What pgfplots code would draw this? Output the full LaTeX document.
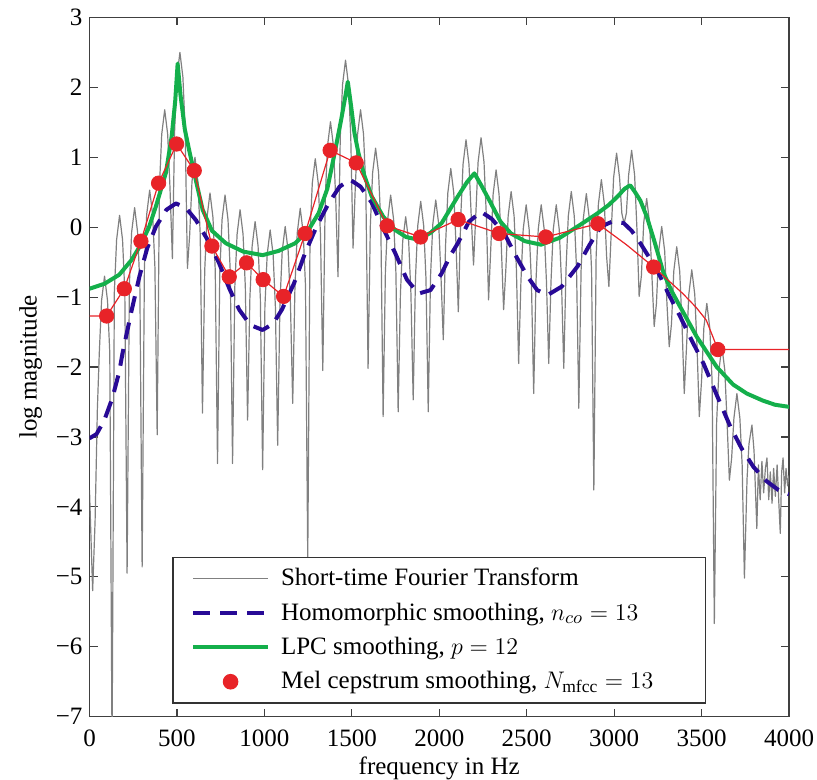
\documentclass[border=0pt]{standalone}
\usepackage{pgfplots}
\pgfplotsset{compat=1.18}
\usepackage{fontspec}
\setmainfont{Liberation Serif}
\definecolor{stftgray}{RGB}{128,128,128}
\definecolor{homblue}{RGB}{40,10,150}
\definecolor{lpcgreen}{RGB}{20,175,75}
\definecolor{melred}{RGB}{232,35,40}
\begin{document}
\begin{tikzpicture}
\begin{axis}[
  scale only axis, width=349.75pt, height=349.5pt,
  xmin=0, xmax=4000, ymin=-7, ymax=3,
  xtick={0,500,1000,1500,2000,2500,3000,3500,4000},
  xticklabels={0,500,1000,1500,2000,2500,3000,3500,4000},
  ytick={-7,-6,-5,-4,-3,-2,-1,0,1,2,3},
  yticklabels={−7,−6,−5,−4,−3,−2,−1,0,1,2,3},
  tick align=inside, tick pos=both, major tick length=4pt,
  axis line style={black!75, line width=0.6pt},
  every tick/.style={black!75, line width=0.6pt},
  tick label style={font=\fontsize{12.5}{15}\selectfont},
  xticklabel style={yshift=-3pt},
  label style={font=\fontsize{12.5}{15}\selectfont},
  xlabel={frequency in Hz}, ylabel={log magnitude},
  xlabel style={yshift=1.8pt},
  legend style={at={(0.5,0.0186)}, anchor=south, draw=black!80, line width=0.6pt, fill=white,
    font=\fontsize{12.5}{15}\selectfont, row sep=3pt, column sep=3.5pt, inner xsep=9pt, inner ysep=3.5pt},
  legend cell align=left,
  legend image code/.code={\draw[mark repeat=2,mark phase=2,#1] plot coordinates {(0pt,0pt) (18.75pt,0pt) (37.5pt,0pt)};},
]
\addplot[stftgray, line width=0.6pt, line join=round] coordinates {
(0,-3.76)(18,-5.2)(32,-4.2)(45,-2.6)(56,-1.8)(69,-1.05)(86,-0.7)(103,-1.05)(116,-1.8)(129,-7.5)
(142,-0.93)(155,-0.18)(172,0.17)(189,-0.18)(202,-0.93)(215,-4.95)
(228,-0.82)(241,-0.07)(258,0.28)(275,-0.07)(288,-0.82)(301,-4.86)
(314,-0.57)(327,0.18)(344,0.53)(361,0.18)(374,-0.57)(387,-2.97)
(400,0.58)(413,1.33)(430,1.68)(447,1.33)(460,0.58)(474,-0.45)
(487,1.40)(500,2.15)(517,2.50)(534,2.15)(547,1.40)(560,-0.59)
(573,-0.1)(586,0.65)(603,1.0)(620,0.65)(633,-0.1)(646,-2.66)
(659,-0.61)(672,0.14)(689,0.49)(706,0.14)(719,-0.61)(732,-3.38)
(745,-0.64)(758,0.11)(775,0.46)(792,0.11)(805,-0.64)(818,-3.38)
(831,-0.85)(844,-0.10)(861,0.25)(878,-0.10)(891,-0.85)(904,-2.76)
(917,-1.02)(930,-0.27)(947,0.08)(964,-0.27)(977,-1.02)(990,-3.47)
(1003,-1.14)(1016,-0.39)(1033,-0.04)(1050,-0.39)(1063,-1.14)(1076,-3.12)
(1089,-1.09)(1102,-0.34)(1119,0.01)(1136,-0.34)(1149,-1.09)(1162,-2.52)
(1175,-0.83)(1188,-0.08)(1205,0.27)(1222,-0.08)(1235,-0.83)(1248,-4.75)
(1261,-0.12)(1274,0.63)(1291,0.98)(1308,0.63)(1321,-0.12)(1334,-2.05)
(1348,0.41)(1361,1.16)(1378,1.51)(1395,1.16)(1408,0.41)(1421,-0.71)
(1434,1.29)(1447,2.04)(1464,2.39)(1481,2.04)(1494,1.29)(1507,-0.30)
(1520,0.58)(1533,1.33)(1550,1.68)(1567,1.33)(1580,0.58)(1593,-2.02)
(1606,0.03)(1619,0.78)(1636,1.13)(1653,0.78)(1666,0.03)(1679,-2.71)
(1692,-0.64)(1705,0.11)(1722,0.46)(1739,0.11)(1752,-0.64)(1765,-2.64)
(1778,-0.95)(1791,-0.20)(1808,0.15)(1825,-0.20)(1838,-0.95)(1851,-2.47)
(1864,-0.73)(1877,0.02)(1894,0.37)(1911,0.02)(1924,-0.73)(1937,-2.64)
(1950,-0.71)(1963,0.04)(1980,0.39)(1997,0.04)(2010,-0.71)(2023,-1.61)
(2036,-0.26)(2049,0.49)(2066,0.84)(2083,0.49)(2096,-0.26)(2109,-1.21)
(2123,0.15)(2136,0.90)(2153,1.25)(2170,0.90)(2183,0.15)(2196,-0.54)
(2209,0.18)(2222,0.93)(2239,1.28)(2256,0.93)(2269,0.18)(2282,-1.04)
(2295,-0.28)(2308,0.47)(2325,0.82)(2342,0.47)(2355,-0.28)(2368,-1.18)
(2381,-0.59)(2394,0.16)(2411,0.51)(2428,0.16)(2441,-0.59)(2454,-1.95)
(2467,-0.78)(2480,-0.03)(2497,0.32)(2514,-0.03)(2527,-0.78)(2540,-2.38)
(2553,-0.78)(2566,-0.03)(2583,0.32)(2600,-0.03)(2613,-0.78)(2626,-1.95)
(2639,-0.78)(2652,-0.03)(2669,0.32)(2686,-0.03)(2699,-0.78)(2712,-2.02)
(2725,-0.59)(2738,0.16)(2755,0.51)(2772,0.16)(2785,-0.59)(2798,-2.59)
(2811,-0.62)(2824,0.13)(2841,0.48)(2858,0.13)(2871,-0.62)(2884,-3.76)
(2897,-0.42)(2910,0.33)(2927,0.68)(2944,0.33)(2957,-0.42)(2970,-0.85)
(2984,-0.04)(2997,0.71)(3014,1.06)(3031,0.71)(3044,0.20)(3057,0.05)
(3070,0.20)(3083,0.75)(3100,1.10)(3117,0.75)(3130,0.00)(3143,-0.99)
(3156,-0.69)(3169,0.06)(3186,0.41)(3203,0.06)(3216,-0.69)(3229,-1.42)
(3242,-1.09)(3255,-0.34)(3272,0.01)(3289,-0.34)(3302,-1.09)(3315,-1.71)
(3328,-1.38)(3341,-0.63)(3358,-0.28)(3375,-0.63)(3388,-1.38)(3401,-2.38)
(3414,-1.71)(3427,-0.96)(3444,-0.61)(3461,-0.96)(3474,-1.71)(3487,-2.71)
(3500,-2.19)(3513,-1.44)(3530,-1.09)(3547,-1.44)(3560,-2.19)(3573,-5.67)
(3586,-2.8)(3599,-2.05)(3616,-1.70)(3633,-2.05)(3646,-2.8)(3659,-3.62)
(3672,-3.3)(3685,-2.73)(3702,-2.38)(3719,-2.73)(3732,-3.4)(3745,-5.02)
(3760,-3.6)(3771,-3.1)(3788,-2.83)(3800,-3.2)(3816,-4.31)
(3825,-3.4)(3835,-3.9)(3845,-3.35)(3855,-3.8)(3865,-3.45)(3874,-3.3)(3884,-3.9)(3893,-3.5)(3903,-3.95)(3912,-3.45)(3922,-3.85)(3932,-3.4)(3941,-3.9)(3950,-4.38)(3958,-3.5)(3966,-3.3)(3975,-3.8)(3983,-3.45)(3992,-3.7)(4000,-3.55)
};
\addlegendentry{Short-time Fourier Transform}
\addplot[homblue, line width=2pt, dash pattern=on 8.5pt off 5pt, line join=round] coordinates {
(0,-3.02)(40,-2.96)(85,-2.76)(130,-2.45)(170,-2.07)(189,-1.80)(240,-1.2)(285,-0.71)(330,-0.3)(380,0.01)(440,0.25)(494,0.34)(550,0.28)(609,0.10)(680,-0.2)(742,-0.52)(800,-0.88)(856,-1.18)(920,-1.40)(990,-1.47)(1050,-1.38)(1100,-1.18)(1170,-0.8)(1233,-0.37)(1300,0.02)(1367,0.34)(1430,0.58)(1490,0.68)(1550,0.58)(1614,0.35)(1680,-0.02)(1748,-0.37)(1815,-0.75)(1881,-0.95)(1950,-0.9)(2014,-0.66)(2060,-0.42)(2106,-0.23)(2170,0.08)(2239,0.22)(2300,0.12)(2372,-0.09)(2440,-0.42)(2506,-0.71)(2560,-0.9)(2620,-0.97)(2700,-0.85)(2791,-0.56)(2860,-0.25)(2925,0.01)(2990,0.08)(3054,0.06)(3100,-0.05)(3150,-0.23)(3245,-0.61)(3310,-0.95)(3378,-1.28)(3440,-1.6)(3511,-1.95)(3590,-2.42)(3664,-2.85)(3730,-3.17)(3797,-3.43)(3870,-3.63)(3940,-3.76)(4000,-3.82)
};
\addlegendentry{Homomorphic smoothing, $n_{co} = 13$}
\addplot[lpcgreen, line width=2pt, line join=round] coordinates {
(0,-0.88)(85,-0.81)(170,-0.68)(240,-0.47)(294,-0.25)(340,0.0)(380,0.3)(437,0.78)(470,1.3)(490,1.8)(504,2.34)(520,1.9)(545,1.4)(570,1.10)(610,0.65)(647,0.25)(700,-0.05)(780,-0.23)(880,-0.35)(990,-0.40)(1080,-0.34)(1176,-0.23)(1250,-0.05)(1310,0.20)(1360,0.55)(1405,1.10)(1440,1.55)(1465,1.9)(1477,2.08)(1495,1.75)(1515,1.35)(1538,1.06)(1570,0.75)(1614,0.44)(1680,0.15)(1748,-0.04)(1810,-0.14)(1881,-0.18)(1950,-0.08)(2014,0.06)(2060,0.25)(2106,0.44)(2160,0.65)(2201,0.77)(2240,0.60)(2296,0.34)(2350,0.08)(2410,-0.09)(2490,-0.2)(2582,-0.25)(2690,-0.15)(2791,0.01)(2906,0.20)(2970,0.32)(3020,0.44)(3060,0.55)(3092,0.60)(3120,0.50)(3150,0.38)(3187,0.15)(3230,-0.2)(3283,-0.66)(3330,-0.92)(3378,-1.14)(3473,-1.57)(3587,-2.0)(3680,-2.25)(3759,-2.38)(3850,-2.48)(3920,-2.54)(4000,-2.57)
};
\addlegendentry{LPC smoothing, $p = 12$}
\addplot[melred, line width=0.6pt, line join=round, forget plot] coordinates {
(0,-1.27)(98,-1.27)(199,-0.88)(294,-0.2)(395,0.63)(498,1.19)(599,0.81)(700,-0.27)(799,-0.71)(898,-0.51)(993,-0.75)(1110,-0.99)(1233,-0.09)(1376,1.10)(1525,0.92)(1702,0.02)(1893,-0.14)(2108,0.11)(2342,-0.09)(2609,-0.14)(2907,0.05)(3070,-0.25)(3226,-0.57)(3393,-0.95)(3470,-1.15)(3527,-1.33)(3565,-1.57)(3593,-1.75)(4000,-1.75)
};
\addplot[only marks, mark=*, mark size=3.6pt, mark options={fill=melred, draw=melred}] coordinates {
(98,-1.27)(199,-0.88)(294,-0.2)(395,0.63)(498,1.19)(599,0.81)(700,-0.27)(799,-0.71)(898,-0.51)(993,-0.75)(1110,-0.99)(1233,-0.09)(1376,1.10)(1525,0.92)(1702,0.02)(1893,-0.14)(2108,0.11)(2342,-0.09)(2609,-0.14)(2907,0.05)(3226,-0.57)(3593,-1.75)
};
\addlegendentry{Mel cepstrum smoothing, $N_{\mathrm{mfcc}} = 13$\hspace{15pt}\mbox{}}
\end{axis}
\pgfresetboundingbox
\path[use as bounding box] ([xshift=-44.75pt,yshift=-31.5pt]current axis.south west) rectangle ([xshift=14pt,yshift=8.75pt]current axis.north east);
\end{tikzpicture}
\end{document}
